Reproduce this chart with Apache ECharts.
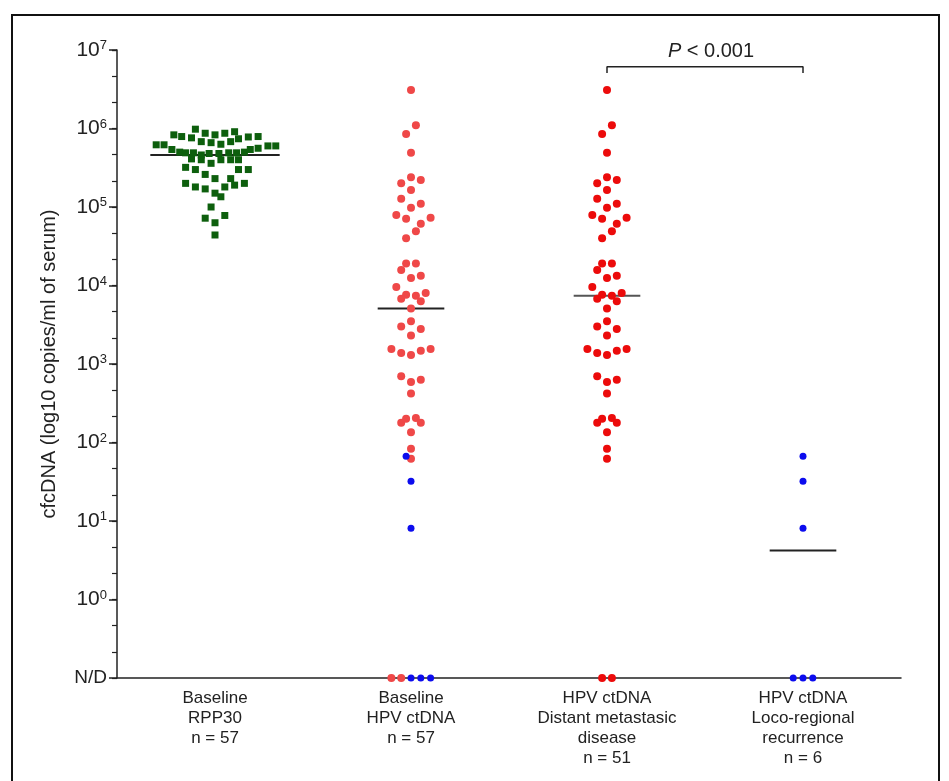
<!DOCTYPE html>
<html>
<head>
<meta charset="utf-8">
<script src="https://cdn.jsdelivr.net/npm/echarts@6.0.0/dist/echarts.min.js"></script>
<style>
  html, body { margin: 0; background: #fff; }
  #chart { width: 949px; height: 781px; }
</style>
</head>
<body>
<div id="chart"></div>
<script>
// categories along the x axis
const categories = [
  'Baseline\nRPP30\nn = 57',
  'Baseline\nHPV ctDNA\nn = 57',
  'HPV ctDNA\nDistant metastasic\ndisease\nn = 51',
  'HPV ctDNA\nLoco-regional\nrecurrence\nn = 6'
];

// N/D is plotted at the bottom of the log axis (one decade below 10^0)
const ND = 0.1;
const TOP = 1e7;

// Baseline RPP30 (copies/ml), with horizontal spread in category widths
const rppValues = [9.8e5, 8.3e5, 7.9e5, 7.6e5, 8.7e5, 8.3e5, 8.7e5, 9.1e5, 6.8e5, 6.6e5,
  6.3e5, 6.8e5, 7.4e5, 7.8e5, 7.9e5, 6.2e5, 6.2e5, 5.4e5, 5.0e5, 4.9e5,
  4.9e5, 4.6e5, 4.8e5, 4.8e5, 4.9e5, 4.9e5, 5.0e5, 5.4e5, 5.6e5, 6.0e5,
  6.0e5, 4.1e5, 4.0e5, 3.6e5, 4.0e5, 4.0e5, 4.0e5, 3.2e5, 3.0e5, 2.6e5,
  2.3e5, 2.3e5, 3.0e5, 3.0e5, 2.0e5, 1.8e5, 1.7e5, 1.5e5, 1.35e5, 1.8e5,
  1.9e5, 2.0e5, 1.0e5, 7.2e4, 7.8e4, 6.3e4, 4.4e4];
const rppOffset = [-0.10, -0.21, -0.17, -0.12, -0.05, 0, 0.05, 0.10, -0.07, -0.02,
  0.03, 0.08, 0.12, 0.17, 0.22, -0.30, -0.26, -0.22, -0.18, -0.15,
  -0.11, -0.07, -0.03, 0.02, 0.07, 0.11, 0.15, 0.18, 0.22, 0.27,
  0.31, -0.12, -0.07, -0.02, 0.03, 0.08, 0.12, -0.15, -0.10, -0.05,
  0, 0.08, 0.12, 0.17, -0.15, -0.10, -0.05, 0, 0.03, 0.05,
  0.10, 0.15, -0.02, -0.05, 0.05, 0, 0];

// HPV ctDNA, patients with distant metastasis (detected values)
const metValues = [3.1e6, 1.1e6, 8.5e5, 4.9e5, 2.4e5, 2.0e5, 2.2e5, 1.65e5, 1.27e5, 1.1e5,
  9.8e4, 7.9e4, 7.1e4, 7.3e4, 6.1e4, 4.9e4, 4.0e4, 1.9e4, 1.9e4, 1.57e4,
  1.25e4, 1.33e4, 9.6e3, 7.6e3, 6.8e3, 7.4e3, 8.0e3, 6.3e3, 5.1e3, 3.5e3,
  3.0e3, 2.8e3, 2.3e3, 1.55e3, 1.38e3, 1.3e3, 1.47e3, 1.55e3, 700, 590,
  630, 420, 178, 200, 205, 178, 135, 83, 62];
const metStep = [0, 1, -1, 0, 0, -2, 2, 0, -2, 2,
  0, -3, -1, 4, 2, 1, -1, -1, 1, -2,
  0, 2, -3, -1, -2, 1, 3, 2, 0, 0,
  -2, 2, 0, -4, -2, 0, 2, 4, -2, 0,
  2, 0, -2, -1, 1, 2, 0, 0, 0];

// HPV ctDNA, patients with loco-regional recurrence (detected values)
const locoValues = [67, 32, 8.1];
const locoStepBaseline = [-1, 0, 0];
const locoStepRecur = [0, 0, 0];

// N/D dots (jitter steps)
const baselineNDRed = [-4, -2];
const baselineNDBlue = [0, 2, 4];
const metND = [-1, 1];
const locoND = [-2, 0, 2];

// medians per category
const medians = [4.6e5, 5.1e3, 7.4e3, 4.2];

// significance bracket between categories 3 and 4
const bracketX = [3, 4];
const bracketY = [5.1e6, 6.1e6];

const JIT = 0.025; // one jitter step, in category widths
const FONT = 'Liberation Sans, Arial, sans-serif';

function dots(center, vals, steps) {
  return vals.map((v, i) => [center + steps[i] * JIT, v]);
}
function ndDots(center, steps) {
  return steps.map(s => [center + s * JIT, ND]);
}

const GREEN = '#0d5f0d';
const RED_LIGHT = '#ef4848';
const RED = '#ec0b0b';
const BLUE = '#0c0cee';

function scatter(data, color, size, symbol) {
  return {
    type: 'scatter', xAxisIndex: 1, yAxisIndex: 0, z: 3,
    symbol: symbol || 'circle', symbolSize: size,
    itemStyle: { color: color, opacity: 1 },
    data: data
  };
}

const medianHalf = [0.33, 0.17, 0.17, 0.17];
const medianSeries = medians.map((m, i) => ({
  type: 'line', xAxisIndex: 1, yAxisIndex: 0, z: 2,
  symbol: 'none', silent: true,
  lineStyle: { color: i === 2 ? '#555' : '#222', width: 2 },
  data: [[i + 1 - medianHalf[i], m], [i + 1 + medianHalf[i], m]]
}));

const series = [
  ...medianSeries,
  scatter(rppValues.map((v, i) => [1 + rppOffset[i], v]), GREEN, 7, 'rect'),
  scatter(dots(2, metValues, metStep), RED_LIGHT, 8),
  scatter(ndDots(2, baselineNDRed), RED_LIGHT, 8),
  scatter(dots(2, locoValues, locoStepBaseline), BLUE, 7),
  scatter(ndDots(2, baselineNDBlue), BLUE, 7),
  scatter(dots(3, metValues, metStep), RED, 8),
  scatter(ndDots(3, metND), RED, 8),
  scatter(dots(4, locoValues, locoStepRecur), BLUE, 7),
  scatter(ndDots(4, locoND), BLUE, 7),
  {
    type: 'line', xAxisIndex: 1, yAxisIndex: 0, z: 2,
    symbol: 'none', silent: true,
    lineStyle: { color: '#222', width: 1.5 },
    data: [[bracketX[0], bracketY[0]], [bracketX[0], bracketY[1]],
           [bracketX[1], bracketY[1]], [bracketX[1], bracketY[0]]]
  }
];

const chart = echarts.init(document.getElementById('chart'));

const option = {
  animation: false,
  backgroundColor: '#fff',
  textStyle: { fontFamily: FONT },
  grid: { left: 117, top: 50, right: 48, bottom: 103 },
  xAxis: [
    {
      type: 'category',
      data: categories,
      boundaryGap: true,
      position: 'bottom',
      axisLine: { onZero: false, lineStyle: { color: '#222', width: 1.5 } },
      axisTick: { alignWithLabel: true, length: 7, lineStyle: { color: '#222', width: 1.5 } },
      axisLabel: { color: '#222', fontSize: 17, lineHeight: 20, margin: 10, fontFamily: FONT, interval: 0 },
      splitLine: { show: false }
    },
    { type: 'value', min: 0.5, max: 4.5, show: false, axisLine: { onZero: false } }
  ],
  yAxis: [
    {
      type: 'log',
      logBase: 10,
      min: ND,
      max: TOP,
      splitNumber: 8,
      position: 'left',
      name: 'cfcDNA (log10 copies/ml of serum)',
      nameLocation: 'middle',
      nameGap: 58,
      nameTextStyle: { color: '#222', fontSize: 20, fontFamily: FONT },
      axisLine: { show: true, onZero: false, lineStyle: { color: '#222', width: 1.5 } },
      axisTick: { show: true, length: 8, lineStyle: { color: '#222', width: 1.5 } },
      splitLine: { show: false },
      axisLabel: {
        margin: 10,
        formatter: function (v) {
          const e = Math.round(Math.log10(v));
          return e < 0 ? '{nd|N/D}' : '{b|10}{s|' + e + '}';
        },
        rich: {
          b: { fontSize: 21, lineHeight: 22, color: '#222', fontFamily: FONT },
          s: { fontSize: 13, lineHeight: 14, verticalAlign: 'top', color: '#222', fontFamily: FONT },
          nd: { fontSize: 19, color: '#222', fontFamily: FONT }
        }
      }
    },
    {
      // minor ticks: thirds of each decade, on a linear axis in log10 units
      type: 'value',
      position: 'left',
      offset: 0,
      min: Math.log10(ND),
      max: Math.log10(TOP),
      interval: 1 / 3,
      axisLine: { show: false, onZero: false },
      axisTick: { show: true, length: 5, lineStyle: { color: '#222', width: 1.2 } },
      axisLabel: { show: false },
      splitLine: { show: false }
    }
  ],
  series: series
};

chart.setOption(option);

// p-value label above the bracket, placed through the chart's own scales
const p = chart.convertToPixel({ xAxisIndex: 1, yAxisIndex: 0 }, [(bracketX[0] + bracketX[1]) / 2, bracketY[1]]);
chart.setOption({
  graphic: [
    {
      type: 'rect', silent: true, z: 0,
      shape: { x: 12, y: 15, width: 927, height: 800 },
      style: { fill: 'none', stroke: '#111', lineWidth: 2 }
    },
    {
      type: 'text', silent: true,
      x: p[0] + 6, y: p[1] - 5,
      style: {
        text: '{i|P}{n| < 0.001}',
        align: 'center', verticalAlign: 'bottom',
        rich: {
          i: { fontSize: 20, fontStyle: 'italic', fill: '#222', fontFamily: FONT },
          n: { fontSize: 20, fill: '#222', fontFamily: FONT }
        }
      }
    }
  ]
});
</script>
</body>
</html>
